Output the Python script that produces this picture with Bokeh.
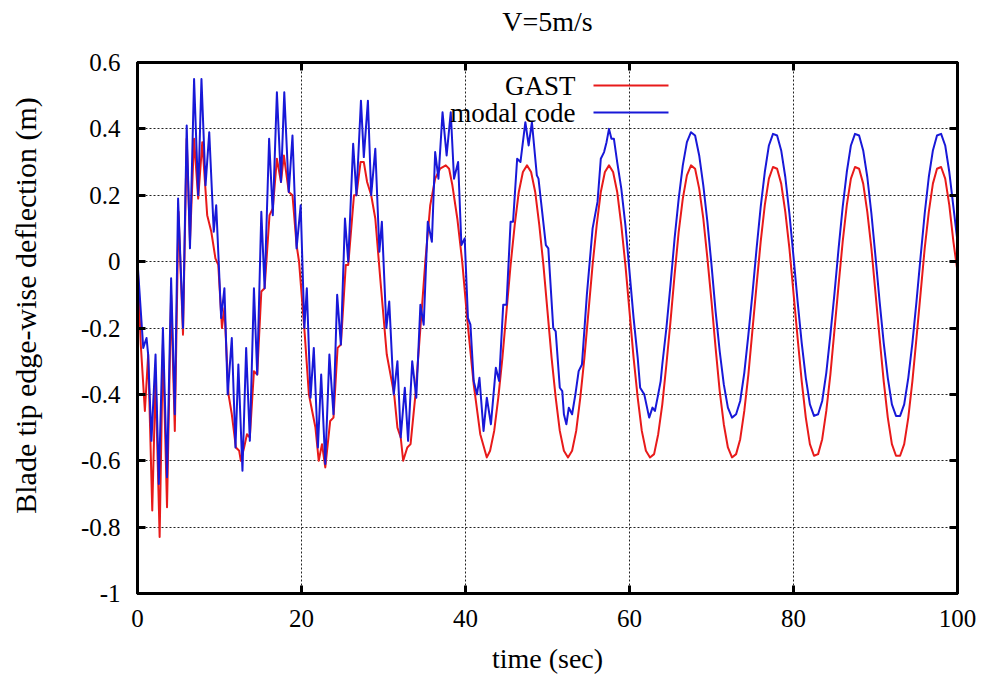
import numpy as np
from bokeh.plotting import figure
from bokeh.models import Range1d, FixedTicker, LinearAxis, Label, BoxAnnotation
from bokeh.embed import file_html
from bokeh.resources import INLINE

FONT = "Liberation Serif"

# ---------------- data ----------------
# GAST: irregularly read extrema for the noisy start, then a regular 0.5 s grid
gast_t_early = [0.0, 0.4, 0.9, 1.3, 1.8, 2.2, 2.7, 3.1, 3.6, 4.1, 4.55, 5.0, 5.55, 6.0, 6.4, 6.9, 7.4, 7.9, 8.5, 9.0, 9.5, 9.85, 10.3,
                10.6, 11.1, 11.5, 12.0, 12.4, 12.6, 13.0, 13.35, 13.7, 14.2, 14.6, 15.1, 15.5, 16.1, 16.5, 17.0, 17.5, 17.85, 18.45, 18.9, 19.4, 19.7, 20.4,
                20.9, 21.3, 21.7, 22.1, 22.5, 22.9, 23.5, 23.9, 24.4, 24.8, 25.4, 25.7, 26.4, 26.7, 27.2, 27.6, 28.0, 28.5, 29.0, 29.6, 30.4,
                31.3, 31.7, 32.1, 32.4, 32.9, 33.3, 33.9, 34.5, 35.1, 35.7, 36.3, 36.9, 37.6, 38.0, 38.4, 39.0, 39.6, 40.2, 41.0, 41.8, 42.6]
gast_v_early = [0.00, -0.25, -0.45, -0.28, -0.75, -0.35, -0.83, -0.25, -0.74, -0.10, -0.51, 0.15, -0.22, 0.37, 0.06, 0.37, 0.19, 0.36, 0.14, 0.09, 0.01, -0.01, -0.20,
                -0.14, -0.40, -0.46, -0.56, -0.57, -0.60, -0.56, -0.52, -0.53, -0.33, -0.34, -0.09, -0.08, 0.14, 0.16, 0.31, 0.24, 0.32, 0.21, 0.20, 0.05, 0.00, -0.22,
                -0.40, -0.45, -0.50, -0.60, -0.55, -0.62, -0.48, -0.47, -0.26, -0.25, -0.01, -0.01, 0.20, 0.20, 0.30, 0.30, 0.24, 0.20, 0.13, -0.05, -0.28,
                -0.40, -0.50, -0.53, -0.60, -0.56, -0.55, -0.40, -0.20, 0.00, 0.17, 0.25, 0.28, 0.29, 0.28, 0.23, 0.13, 0.00, -0.17, -0.37, -0.52, -0.59]
gast_t_late = np.arange(43.0, 100.01, 0.5)
gast_v_late = [-0.57, -0.51, -0.41, -0.29, -0.15, -0.01, 0.11, 0.21, 0.27, 0.29, 0.27, 0.21, 0.11, -0.01, -0.15, -0.29, -0.41, -0.51, -0.57, -0.59,
               -0.57, -0.51, -0.41, -0.29, -0.15, -0.01, 0.11, 0.21, 0.27, 0.29, 0.27, 0.21, 0.11, -0.01, -0.15, -0.29, -0.41, -0.51, -0.57, -0.59,
               -0.58, -0.52, -0.43, -0.31, -0.18, -0.04, 0.09, 0.19, 0.26, 0.29, 0.28, 0.22, 0.13, 0.01, -0.12, -0.26, -0.39, -0.49, -0.56, -0.59,
               -0.58, -0.535, -0.45, -0.34, -0.205, -0.07, 0.06, 0.17, 0.25, 0.285, 0.28, 0.235, 0.15, 0.04, -0.095, -0.23, -0.36, -0.47, -0.55, -0.585,
               -0.58, -0.535, -0.45, -0.34, -0.205, -0.07, 0.06, 0.17, 0.25, 0.285, 0.28, 0.235, 0.15, 0.04, -0.095, -0.23, -0.36, -0.47, -0.55, -0.585,
               -0.585, -0.55, -0.47, -0.36, -0.23, -0.095, 0.04, 0.15, 0.235, 0.28, 0.285, 0.25, 0.17, 0.06, -0.03]

# modal code
modal_t_early = [0.0, 0.7, 1.1, 1.3, 1.7, 2.2, 2.6, 3.1, 3.6, 4.1, 4.55, 4.95, 5.55, 6.0, 6.4, 6.9, 7.4, 7.8, 8.3, 8.75, 9.3, 9.6, 10.2,
                 10.6, 11.0, 11.5, 11.95, 12.3, 12.8, 13.25, 13.7, 14.2, 14.6, 15.1, 15.5, 16.05, 16.5, 17.0, 17.5, 17.9, 18.45, 18.9, 19.4, 19.9, 20.35,
                 20.65, 21.1, 21.5, 22.0, 22.4, 22.9, 23.4, 23.9, 24.35, 24.8, 25.3, 25.7, 26.3, 26.7, 27.25, 27.6, 28.1, 28.5, 29.0, 29.5, 29.8, 30.35,
                 30.7, 31.25, 31.7, 32.1, 32.6, 33.0, 33.5, 34.0, 34.5, 34.9, 35.4, 35.9, 36.3, 36.7, 37.2, 37.7, 38.2, 38.6, 39.1, 39.5, 39.9, 40.3,
                 40.6, 41.0, 41.4, 41.7, 42.2, 42.6, 43.1, 43.7, 44.1, 44.6, 45.0, 45.5, 45.8, 46.3, 46.7, 47.3, 47.7, 48.1, 48.7, 48.9, 49.8, 50.1,
                 50.7, 51.0, 51.5, 51.8, 52.0, 52.3, 52.6, 52.8, 53.0, 53.4, 53.8, 54.2, 54.8, 55.5, 56.1, 56.5, 56.9, 57.2, 57.5, 57.8, 58.1, 58.5,
                 59.0, 59.5, 60.0, 60.5, 61.0, 61.3, 61.8, 62.4, 62.8, 63.1, 63.5, 63.8]
modal_v_early = [0.00, -0.26, -0.23, -0.28, -0.54, -0.28, -0.67, -0.20, -0.65, -0.05, -0.46, 0.19, -0.20, 0.41, 0.04, 0.55, 0.20, 0.55, 0.23, 0.39, 0.09, 0.17, -0.17,
                 -0.08, -0.40, -0.23, -0.56, -0.31, -0.63, -0.26, -0.54, -0.08, -0.34, 0.15, -0.08, 0.37, 0.14, 0.51, 0.24, 0.51, 0.21, 0.38, 0.04, 0.17, -0.20,
                 -0.08, -0.41, -0.26, -0.56, -0.34, -0.61, -0.28, -0.46, -0.10, -0.25, 0.13, 0.00, 0.355, 0.20, 0.485, 0.315, 0.485, 0.20, 0.34, 0.03, 0.12, -0.20,
                 -0.12, -0.40, -0.30, -0.53, -0.38, -0.54, -0.30, -0.41, -0.13, -0.19, 0.12, 0.06, 0.33, 0.25, 0.45, 0.32, 0.45, 0.25, 0.30, 0.05, 0.07, -0.17,
                 -0.19, -0.36, -0.40, -0.35, -0.51, -0.41, -0.49, -0.32, -0.36, -0.13, -0.13, 0.12, 0.12, 0.31, 0.30, 0.42, 0.35, 0.42, 0.26, 0.25, 0.05, 0.04,
                 -0.20, -0.21, -0.38, -0.39, -0.46, -0.49, -0.44, -0.45, -0.46, -0.40, -0.33, -0.31, -0.10, 0.10, 0.18, 0.31, 0.33, 0.36, 0.40, 0.37, 0.37, 0.30,
                 0.22, 0.11, -0.03, -0.17, -0.29, -0.38, -0.40, -0.47, -0.44, -0.45, -0.40, -0.36]
modal_t_late = np.arange(64.0, 100.01, 0.5)
modal_v_late = [-0.31, -0.20, -0.07, 0.07, 0.19, 0.29, 0.36, 0.39, 0.38, 0.32, 0.23, 0.12, -0.01, -0.15, -0.27, -0.37, -0.44, -0.47,
                -0.46, -0.42, -0.335, -0.22, -0.095, 0.04, 0.165, 0.27, 0.35, 0.385, 0.38, 0.335, 0.255, 0.145, 0.015, -0.12, -0.245, -0.35, -0.43, -0.465,
                -0.46, -0.42, -0.335, -0.22, -0.095, 0.04, 0.165, 0.27, 0.35, 0.385, 0.38, 0.335, 0.255, 0.145, 0.015, -0.12, -0.245, -0.35, -0.43, -0.465,
                -0.465, -0.43, -0.35, -0.245, -0.12, 0.015, 0.145, 0.255, 0.335, 0.38, 0.385, 0.35, 0.27, 0.165, 0.06]

x_ticks = [0, 20, 40, 60, 80, 100]
y_ticks = [-1.0, -0.8, -0.6, -0.4, -0.2, 0.0, 0.2, 0.4, 0.6]
y_tick_labels = ["-1", "-0.8", "-0.6", "-0.4", "-0.2", "0", "0.2", "0.4", "0.6"]
series_names = ["GAST", "modal code"]
series_colors = ["#e81a1a", "#1818d8"]
title_text = "V=5m/s"
x_label = "time (sec)"
y_label = "Blade tip edge-wise deflection (m)"

gast_t = list(gast_t_early) + list(gast_t_late)
gast_v = gast_v_early + gast_v_late
modal_t = list(modal_t_early) + list(modal_t_late)
modal_v = modal_v_early + modal_v_late

# ---------------- figure ----------------
p = figure(frame_width=820, frame_height=531,
           x_range=Range1d(0, 100), y_range=Range1d(-1, 0.6),
           output_backend="svg", toolbar_location=None,
           min_border_left=137, min_border_right=30, min_border_top=62, min_border_bottom=91,
           background_fill_color="white", border_fill_color="white")

p.outline_line_color = "black"
p.outline_line_width = 3

xt = FixedTicker(ticks=x_ticks)
yt = FixedTicker(ticks=y_ticks)

for ax in (p.xaxis[0], p.yaxis[0]):
    ax.axis_line_width = 3
    ax.axis_line_color = "black"
    ax.major_tick_in = 8
    ax.major_tick_out = 0
    ax.major_tick_line_width = 3
    ax.minor_tick_line_color = None
    ax.major_label_text_font = FONT
    ax.major_label_text_font_size = "25px"
    ax.major_label_text_font_style = "normal"
    ax.major_label_text_color = "black"
    ax.axis_label_text_font = FONT
    ax.axis_label_text_font_style = "normal"
    ax.axis_label_text_color = "black"

p.xaxis[0].ticker = xt
p.yaxis[0].ticker = yt
p.yaxis[0].major_label_overrides = {t: l for t, l in zip(y_ticks, y_tick_labels)}
p.xaxis[0].major_label_standoff = 16
p.yaxis[0].major_label_standoff = 17

p.xaxis[0].axis_label = x_label
p.xaxis[0].axis_label_text_font_size = "28px"
p.xaxis[0].axis_label_standoff = 13

# leading no-break spaces shift the visible label upward like in the original
p.yaxis[0].axis_label = "\u00a0" * 6 + y_label
p.yaxis[0].axis_label_text_font_size = "30px"
p.yaxis[0].axis_label_standoff = 36

# mirrored inward ticks on the right border (no labels)
right_ax = LinearAxis(ticker=yt, major_label_text_font_size="1px", major_label_text_color=None,
                      major_label_standoff=0, major_tick_in=8, major_tick_out=0, major_tick_line_width=3,
                      axis_line_width=3, minor_tick_line_color=None)
p.add_layout(right_ax, "right")

# top border: inward ticks, and the chart title carried as this axis' label
top_ax = LinearAxis(ticker=xt, major_label_text_font_size="1px", major_label_text_color=None,
                    major_label_standoff=0, major_tick_in=8, major_tick_out=0, major_tick_line_width=3,
                    axis_line_width=3, minor_tick_line_color=None,
                    axis_label=title_text, axis_label_standoff=26, axis_label_text_font=FONT,
                    axis_label_text_font_size="28px", axis_label_text_font_style="normal",
                    axis_label_text_color="black")
p.add_layout(top_ax, "above")

p.xgrid.ticker = FixedTicker(ticks=[20, 40, 60, 80])
p.ygrid.ticker = FixedTicker(ticks=[-0.8, -0.6, -0.4, -0.2, 0.0, 0.2, 0.4])
for g in (p.xgrid[0], p.ygrid[0]):
    g.grid_line_color = "#222222"
    g.grid_line_dash = "2 2"
    g.grid_line_width = 1

p.line(gast_t, gast_v, line_color=series_colors[0], line_width=2, line_join="round")
p.line(modal_t, modal_v, line_color=series_colors[1], line_width=2, line_join="round")

# legend (text on the left of the sample line, like gnuplot)
leg_y = [508, 481]
for name, col, yy in zip(series_names, series_colors, leg_y):
    p.add_layout(Label(x=438, y=yy, x_units="screen", y_units="screen", text=name,
                       text_align="right", text_baseline="middle", text_font=FONT,
                       text_font_size="27px", text_color="black"))
    p.add_layout(BoxAnnotation(left=456, right=531, bottom=yy - 1, top=yy + 1,
                               left_units="screen", right_units="screen",
                               bottom_units="screen", top_units="screen",
                               fill_color=col, fill_alpha=1.0, line_color=None))

open("out.html", "w").write(file_html(p, INLINE))
